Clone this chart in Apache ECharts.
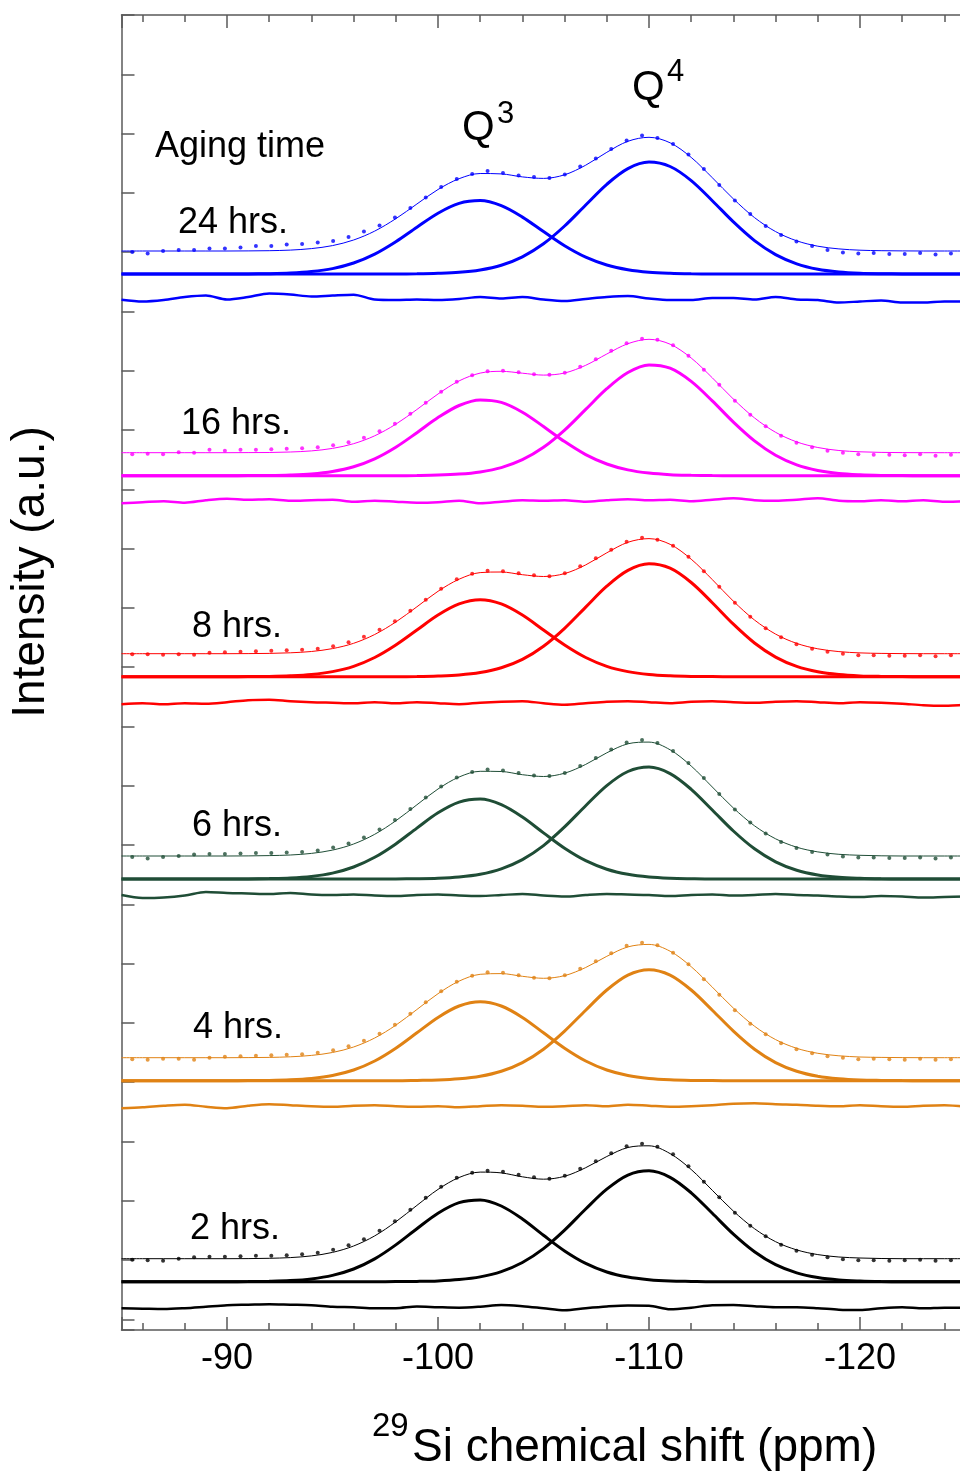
<!DOCTYPE html>
<html>
<head>
<meta charset="utf-8">
<script src="https://cdn.jsdelivr.net/npm/echarts@6/dist/echarts.min.js"></script>
<style>
html,body{margin:0;padding:0;background:#fff;overflow:hidden;}
#wrap{width:960px;height:1474px;overflow:hidden;position:relative;}
#chart{width:1080px;height:1474px;position:absolute;left:0;top:0;}
</style>
</head>
<body>
<div id="wrap"><div id="chart"></div></div>
<script>
// ---------- DATA ----------
// chemical-shift grid for the fitted curves (ppm)
const ppm = [-85,-86,-87,-88,-89,-90,-91,-92,-93,-94,-95,-96,-97,-98,-99,-100,-101,-102,-103,-104,-105,-106,-107,-108,-109,-110,-111,-112,-113,-114,-115,-116,-117,-118,-119,-120,-121,-122,-123,-124,-125];
// chemical shift of the experimental points (ppm)
const dotPpm = [-85.51,-86.24,-86.97,-87.71,-88.44,-89.17,-89.90,-90.64,-91.37,-92.10,-92.83,-93.56,-94.30,-95.03,-95.76,-96.49,-97.23,-97.96,-98.69,-99.42,-100.15,-100.89,-101.62,-102.35,-103.08,-103.82,-104.55,-105.28,-106.01,-106.74,-107.48,-108.21,-108.94,-109.67,-110.40,-111.14,-111.87,-112.60,-113.33,-114.07,-114.80,-115.53,-116.26,-116.99,-117.73,-118.46,-119.19,-119.92,-120.65,-121.39,-122.12,-122.85,-123.58,-124.31];

const spectrumLabels = ['2 hrs.','4 hrs.','6 hrs.','8 hrs.','16 hrs.','24 hrs.'];
// vertical stacking offsets of each spectrum (a.u.)
const baselineOffsets = [48.3, 249.3, 451, 653.3, 854.3, 1056];
const fitOffset = 23;

// Q3 component
const q3_2h  = [0,0,0,0,0,0,0.1,0.4,1.1,2.8,6.3,12.7,22.8,36.8,53.0,68.5,79.1,81.8,75.7,62.7,46.4,30.8,18.3,9.7,4.6,2.0,0.7,0.3,0,0,0,0,0,0,0,0,0,0,0,0,0];
const q3_4h  = [0,0,0,0,0,0,0.1,0.3,0.9,2.3,5.2,10.7,19.7,32.5,47.9,63.3,74.7,79.0,74.7,63.3,47.9,32.5,19.7,10.7,5.2,2.3,0.9,0.3,0.1,0,0,0,0,0,0,0,0,0,0,0,0];
const q3_6h  = [0,0,0,0,0,0,0.1,0.4,1.0,2.6,5.9,12.0,21.7,35.1,50.9,66.2,76.9,79.9,74.3,61.9,46.1,30.7,18.3,9.8,4.7,2.0,0.8,0.3,0,0,0,0,0,0,0,0,0,0,0,0,0];
const q3_8h  = [0,0,0,0,0,0,0.1,0.3,0.9,2.2,5.1,10.4,19.2,31.7,46.7,61.7,72.8,77.0,72.8,61.7,46.7,31.7,19.2,10.4,5.1,2.2,0.9,0.3,0.1,0,0,0,0,0,0,0,0,0,0,0,0];
const q3_16h = [0,0,0,0,0,0,0.1,0.2,0.7,1.8,4.3,9.0,16.9,28.5,43.0,58.1,70.2,75.8,73.3,63.5,49.2,34.1,21.1,11.7,5.8,2.6,1.0,0.4,0.1,0,0,0,0,0,0,0,0,0,0,0,0];
const q3_24h = [0,0,0,0,0,0,0.1,0.3,0.9,2.4,5.4,11.0,19.9,32.3,46.8,60.8,70.6,73.4,68.3,56.9,42.4,28.2,16.8,9.0,4.3,1.8,0.7,0.2,0,0,0,0,0,0,0,0,0,0,0,0,0];

// Q4 component
const q4_2h  = [0,0,0,0,0,0,0,0,0,0,0,0,0,0.1,0.3,0.8,2.1,4.8,10.1,19.2,33.1,51.6,72.7,92.5,106.6,110.9,104.4,88.9,68.4,47.6,30.0,17.0,8.8,4.1,1.7,0.7,0.2,0,0,0,0];
const q4_4h  = [0,0,0,0,0,0,0,0,0,0,0,0,0,0,0.3,0.7,1.9,4.4,9.4,18.1,31.5,49.6,70.5,90.7,105.6,111.0,105.6,90.7,70.5,49.6,31.5,18.1,9.4,4.4,1.9,0.7,0.3,0.1,0,0,0];
const q4_6h  = [0,0,0,0,0,0,0,0,0,0,0,0,0,0.1,0.3,0.8,2.1,4.8,10.2,19.4,33.4,52.1,73.3,93.4,107.5,111.9,105.4,89.7,69.0,48.0,30.2,17.2,8.8,4.1,1.7,0.7,0.2,0,0,0,0];
const q4_8h  = [0,0,0,0,0,0,0,0,0,0,0,0,0,0,0.2,0.7,1.7,4.1,8.9,17.3,30.5,48.4,69.6,90.5,106.3,112.9,108.5,94.2,74.0,52.5,33.7,19.6,10.3,4.9,2.1,0.8,0.3,0.1,0,0,0];
const q4_16h = [0,0,0,0,0,0,0,0,0,0,0,0,0,0,0.2,0.6,1.6,3.8,8.1,16.0,28.4,45.6,66.3,87.0,103.2,110.8,107.5,94.3,74.8,53.6,34.8,20.4,10.8,5.2,2.2,0.9,0.3,0.1,0,0,0];
const q4_24h = [0,0,0,0,0,0,0,0,0,0,0,0,0,0,0.2,0.7,1.7,4.1,8.8,17.2,30.2,48.0,69.0,89.7,105.4,111.9,107.5,93.4,73.3,52.1,33.4,19.4,10.2,4.8,2.1,0.8,0.3,0.1,0,0,0];

// experimental points (relative to the fit baseline)
const dots_2h  = [-1,-1.5,-2,0,1.5,2,2,2.5,3,3,3.5,4.5,6,9,13.5,19.5,28,37.5,49,61,72,81,86,88,87,84,81.5,80,83,90,97.5,105.5,112.5,115,112,104.5,92.5,77,61.5,46,33,22.5,14,8,4,1.5,-0.5,-1.5,-1.5,-2,-1.5,-1,-2,-1.5];
const dots_4h  = [-1.5,-2,-1,-1,-2,0,1,1.5,2,2.5,3,3.5,5,7.5,11.5,17,24,33,44,55.5,66.5,76,82,85.5,85,82.5,80,79.5,82.5,89,96.5,104.5,112,115,112.5,105,93.5,78.5,63,47.5,34,23.5,14.5,8.5,4.5,1.5,0,-1.5,-1,-1.5,-2,-1,-2,-1.5];
const dots_6h  = [-1,-2.5,-1,0,1.5,2,2,2.5,3,3,3.5,4,5.5,8.5,12.5,18.5,26.5,36,47,58.5,69.5,78.5,84,86.5,85.5,83,80.5,80,83,90,98,106.5,113.5,116,113,105,93,78,62,46.5,33.5,22.5,14,8,4,1.5,-0.5,-1.5,-1.5,-2,-2,-1.5,-2.5,-1.5];
const dots_8h  = [-0.5,-0.5,-1,-0.5,-1,1,1.5,2,2.5,3,3.5,4,5,7.5,11.5,17,24,32.5,43,54,65,74.5,80,83,82.5,80.5,78.5,77.5,80.5,87.5,95.5,104,112,116,114,108,97,82.5,67,51,37,25.5,16.5,9.5,5,2,0,-1.5,-1.5,-2,-2,-1.5,-2.5,-1.5];
const dots_16h = [-1.5,-1,-1.5,0.5,0,3,2,3,3,3.5,4,4.5,5.5,7.5,10.5,15,21.5,29,39,50,61,71,77.5,81.5,82,80.5,78.5,78,80,86,93.5,102,109.5,114,113,107.5,97,83,68,52,38,26.5,17,10,5.5,2,0,-1.5,-2,-2,-2.5,-1.5,-3,-2];
const dots_24h = [-1,-2.5,0,1,1,2.5,2.5,3.5,5,5,6.5,7,8.5,10,14,19.5,25.5,33.5,43,53.5,64,72,77,80,78,75.5,74,73,76.5,84.5,92.5,102,110.5,115.5,113,107,96.5,82,66,50.5,37,25,16,9.5,5,1,-1.5,-2.5,-2,-3,-3,-2,-3.5,-2.5];

// residuals (relative to the component baseline)
const resid_2h  = [-26.6,-27,-27.4,-26.5,-25,-23.5,-23,-22.5,-23,-23.5,-25,-25.5,-26.5,-26.5,-24.8,-25.5,-26,-25,-23.3,-24.5,-26.5,-28.5,-26.5,-24.8,-23.8,-24,-27.5,-26,-23.5,-23.3,-24.5,-25.5,-25.5,-26.5,-28,-28.3,-26.5,-25.5,-26.6,-26,-26];
const resid_4h  = [-27.5,-26.5,-25,-24,-26,-27.5,-25,-23.5,-24.5,-25.5,-26,-25,-24.5,-25.5,-26,-25.5,-26.5,-25.5,-24.5,-25,-26,-25.5,-24.5,-25.5,-24,-25,-26,-25.5,-24.5,-23,-22.5,-23.5,-24,-25,-25.5,-24.5,-25.5,-26,-25,-24.5,-26];
const resid_6h  = [-16,-19,-18.5,-16.5,-13,-14,-14.5,-15,-14,-15.5,-16,-15.5,-16.5,-17,-16,-15.5,-16.5,-17,-16,-15,-16.5,-17.5,-16,-15,-15.5,-16,-17,-16,-15.5,-16.5,-16,-15,-16,-16.5,-17.5,-18,-17,-17.5,-18.5,-18,-17.5];
const resid_8h  = [-27.5,-26.5,-27.5,-26.5,-27,-25.5,-23.5,-23,-24.5,-25.5,-26,-26.5,-25.5,-26.5,-25.5,-26.5,-27.5,-26,-25,-24.5,-26.5,-28,-26.5,-25,-24.5,-25.5,-26.5,-25,-24.5,-25.5,-26,-25,-24.5,-25.5,-26.5,-25.5,-26,-27,-28.5,-29,-28];
const resid_16h = [-27.5,-26.5,-25.5,-27,-24.5,-23,-24,-23.5,-25,-24.5,-24,-26,-25,-26,-27,-26.5,-25,-27.5,-26,-24.5,-25,-24.5,-26,-24.5,-23.5,-24.5,-24,-25.5,-24,-22.5,-24.5,-25,-24,-22.5,-25,-25.5,-24.5,-25.5,-24.5,-26,-25.5];
const resid_24h = [-25.7,-27.5,-26,-23,-21.5,-25.5,-23,-19.5,-20.5,-22.5,-21.5,-20.7,-25.5,-26,-25.5,-26,-25,-23,-24.5,-23,-25.5,-27,-25,-23,-22,-24.5,-26,-26,-24,-24,-25.5,-23,-25.5,-26,-28.5,-27.5,-26.5,-28.5,-28.5,-27.5,-27.5];

// ---------- STYLE ----------
const colors = ['#000000', '#e08214', '#1f4d36', '#ff0000', '#ff00ff', '#0000ff'];
const FONT = '"Liberation Sans", Arial, Helvetica, sans-serif';
const AXIS_COLOR = '#5a5a5a';

const spectra = [
  {q3: q3_2h,  q4: q4_2h,  dots: dots_2h,  res: resid_2h},
  {q3: q3_4h,  q4: q4_4h,  dots: dots_4h,  res: resid_4h},
  {q3: q3_6h,  q4: q4_6h,  dots: dots_6h,  res: resid_6h},
  {q3: q3_8h,  q4: q4_8h,  dots: dots_8h,  res: resid_8h},
  {q3: q3_16h, q4: q4_16h, dots: dots_16h, res: resid_16h},
  {q3: q3_24h, q4: q4_24h, dots: dots_24h, res: resid_24h}
];

const series = [];
spectra.forEach((s, j) => {
  const off = baselineOffsets[j];
  const c = colors[j];
  const base = {type: 'line', xAxisIndex: 0, yAxisIndex: 0, symbol: 'none', showSymbol: false,
                smooth: 0.33, silent: true, animation: false};
  series.push(Object.assign({}, base, {
    name: spectrumLabels[j] + ' Q3',
    data: ppm.map((x, i) => [x, off + s.q3[i]]),
    lineStyle: {color: c, width: 3}
  }));
  series.push(Object.assign({}, base, {
    name: spectrumLabels[j] + ' Q4',
    data: ppm.map((x, i) => [x, off + s.q4[i]]),
    lineStyle: {color: c, width: 3}
  }));
  series.push(Object.assign({}, base, {
    name: spectrumLabels[j] + ' fit',
    data: ppm.map((x, i) => [x, off + fitOffset + s.q3[i] + s.q4[i]]),
    lineStyle: {color: c, width: 1}
  }));
  series.push({
    type: 'scatter', name: spectrumLabels[j] + ' data', xAxisIndex: 0, yAxisIndex: 0,
    symbol: 'circle', symbolSize: 4, silent: true, animation: false,
    itemStyle: {color: c},
    data: dotPpm.map((x, k) => [x, off + fitOffset + s.dots[k]])
  });
  series.push(Object.assign({}, base, {
    name: spectrumLabels[j] + ' residual',
    smooth: 0.3,
    data: ppm.map((x, i) => [x, off + s.res[i]]),
    lineStyle: {color: c, width: 2.5}
  }));
});

const labelPos = [[190, 1229], [193, 1028], [192, 826], [192, 627], [181, 424], [178, 223]];
const graphic = [];
function txt(x, y, t, size, align, rot) {
  const o = {type: 'text', x: x, y: y, silent: true,
    style: {text: t, font: size + 'px ' + FONT, fill: '#000', align: align || 'left', verticalAlign: 'middle',
            textAlign: align || 'left', textVerticalAlign: 'middle'}};
  if (rot) o.rotation = rot;
  return o;
}
spectrumLabels.forEach((t, j) => graphic.push(txt(labelPos[j][0], labelPos[j][1], t, 36)));
graphic.push(txt(155, 147, 'Aging time', 36));
graphic.push(txt(462, 128, 'Q', 42));
graphic.push(txt(497, 114, '3', 31));
graphic.push(txt(632, 88, 'Q', 42));
graphic.push(txt(667, 72, '4', 31));
graphic.push(txt(372, 1427, '29', 33));
graphic.push(txt(412, 1448, 'Si chemical shift (ppm)', 46));
graphic.push(txt(31, 572, 'Intensity (a.u.)', 46, 'center', Math.PI / 2));

const xAxisCommon = {
  type: 'value', min: -130, max: -85, interval: 10, inverse: true, gridIndex: 0,
  axisLine: {show: true, onZero: false, lineStyle: {color: AXIS_COLOR, width: 1.5}},
  axisTick: {show: true, inside: true, length: 13, lineStyle: {color: AXIS_COLOR, width: 1.5}},
  minorTick: {show: true, splitNumber: 5, length: 7, lineStyle: {color: AXIS_COLOR, width: 1.5}},
  splitLine: {show: false}, minorSplitLine: {show: false}
};

const option = {
  animation: false,
  backgroundColor: '#ffffff',
  grid: {left: 121.5, top: 15, width: 949.5, height: 1315, containLabel: false, outerBoundsMode: 'none'},
  xAxis: [
    Object.assign({}, xAxisCommon, {
      position: 'bottom',
      axisLabel: {show: true, fontSize: 36, fontFamily: FONT, color: '#000', margin: 11,
        formatter: v => (v % 10 === 0 && v > -130) ? String(v) : ''}
    }),
    Object.assign({}, xAxisCommon, {
      position: 'top',
      axisLabel: {show: false}
    })
  ],
  yAxis: [
    {type: 'value', min: 0, max: 1315, show: false, gridIndex: 0},
    {type: 'value', min: 0, max: 22.18, interval: 1, inverse: true, position: 'left', gridIndex: 0,
     axisLine: {show: true, onZero: false, lineStyle: {color: AXIS_COLOR, width: 1.5}},
     axisTick: {show: true, inside: true, length: 13, lineStyle: {color: AXIS_COLOR, width: 1.5}},
     axisLabel: {show: false}, splitLine: {show: false}}
  ],
  graphic: graphic,
  series: series
};

const chart = echarts.init(document.getElementById('chart'), null, {renderer: 'canvas'});
chart.setOption(option);
</script>
</body>
</html>
